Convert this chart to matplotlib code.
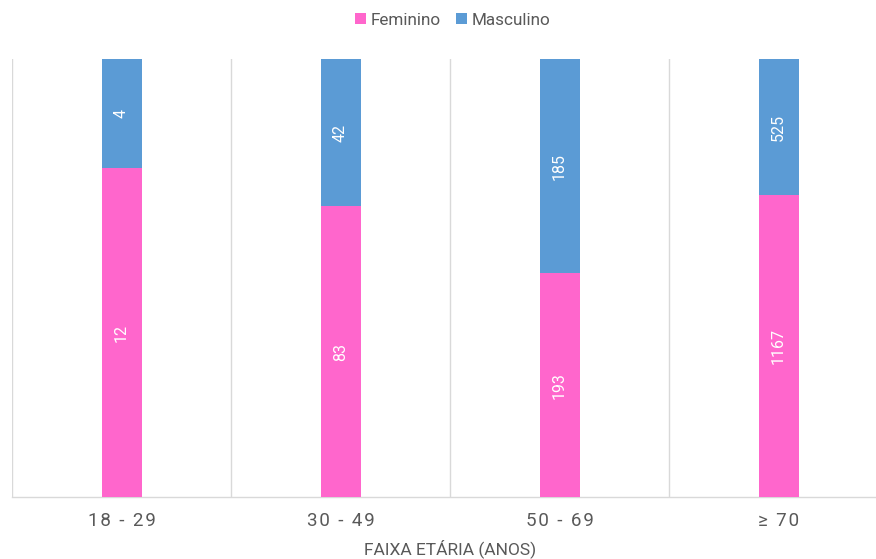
import matplotlib
matplotlib.use("Agg")
import matplotlib.pyplot as plt
import numpy as np

plt.rcParams['font.family'] = ['Roboto', 'DejaVu Sans']

categories = ["18 - 29", "30 - 49", "50 - 69", "≥ 70"]
feminino = [12, 83, 193, 1167]
masculino = [4, 42, 185, 525]

pink = "#FF66CC"
blue = "#5B9BD5"
grid_c = "#D9D9D9"
text_c = "#595959"

fem = np.array(feminino, dtype=float)
mas = np.array(masculino, dtype=float)
tot = fem + mas
fp = fem / tot
mp = mas / tot

W, H = 876, 559
fig = plt.figure(figsize=(W / 100, H / 100), dpi=100)
ax = fig.add_axes([12 / W, (H - 497) / H, (W - 12) / W, 438 / H])

x = np.arange(len(categories))
bw = 40 / 219
b1 = ax.bar(x, fp, width=bw, color=pink, label="Feminino", zorder=3)
b2 = ax.bar(x, mp, width=bw, bottom=fp, color=blue, label="Masculino", zorder=3)

for i in range(len(x)):
    ax.text(x[i], fp[i] / 2, str(feminino[i]), rotation=90, color="white",
            ha="center", va="center", fontsize=11.5, zorder=4)
    ax.text(x[i], fp[i] + mp[i] / 2, str(masculino[i]), rotation=90, color="white",
            ha="center", va="center", fontsize=11.5, zorder=4)

ax.set_xlim(-0.5, -0.5 + (W - 12) / 219)
ax.set_ylim(0, 1)

for b in np.arange(-0.5, len(categories) + 0.5, 1.0):
    ax.axvline(b, color=grid_c, lw=1, zorder=1)

for s in ["top", "right", "left"]:
    ax.spines[s].set_visible(False)
ax.spines["bottom"].set_color(grid_c)
ax.spines["bottom"].set_linewidth(1)


def spaced(s):
    return "\u200a".join(s)


ax.set_yticks([])
ax.set_xticks(x)
ax.set_xticklabels([spaced(c) for c in categories], fontsize=13.5, color=text_c)
ax.tick_params(axis="x", length=0, pad=11)
ax.set_xlabel("FAIXA ETÁRIA (ANOS)", fontsize=12.5, color=text_c, va="center")
ax.xaxis.set_label_coords((450 - 12) / (W - 12), (497 - 549) / 438)

fig.legend(handles=[b1, b2], labels=["Feminino", "Masculino"], loc="upper center",
           bbox_to_anchor=(453 / W, 1.005), ncol=2, frameon=False, fontsize=12.3,
           handlelength=0.6, handleheight=0.6, handletextpad=0.3, columnspacing=0.9,
           labelcolor=text_c)

fig.savefig("out.png", dpi=100)
